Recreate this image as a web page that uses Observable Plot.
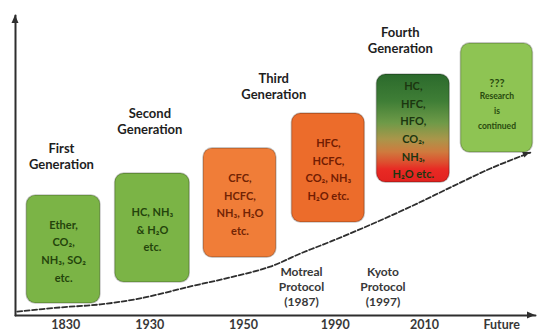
<!DOCTYPE html>
<html>
<head>
<meta charset="utf-8">
<script src="https://cdn.jsdelivr.net/npm/d3@7"></script>
<script src="https://cdn.jsdelivr.net/npm/@observablehq/plot@0.6"></script>
<style>
  body { margin: 0; background: #fff; }
</style>
</head>
<body>
<div id="chart"></div>
<script>
// Refrigerant generations along a timeline (x: timeline stage, y: level of development)

// Timeline tick labels and their stage positions
const eraTicks  = [0.58, 1.55, 2.63, 3.69, 4.72, 5.61];
const eraLabels = ["1830", "1930", "1950", "1990", "2010", "Future"];

// Refrigerant boxes: stage span and level span
const boxStart = [0.13, 1.15, 2.17, 3.19, 4.17, 5.14];
const boxEnd   = [0.98, 2.01, 3.01, 4.03, 5.01, 5.97];
const boxLow   = [4.0, 11.0, 19.3, 31.0, 44.3, 54.3];
const boxHigh  = [40.0, 47.3, 55.7, 67.3, 80.3, 90.7];
const boxKind  = ["natural", "natural", "cfc", "hfc", "lowgwp", "future"];
const boxLines = [
  "Ether,\nCO₂,\nNH₃, SO₂\netc.",
  "HC, NH₃\n& H₂O\netc.",
  "CFC,\nHCFC,\nNH₃, H₂O\netc.",
  "HFC,\nHCFC,\nCO₂, NH₃\nH₂O etc.",
  "HC,\nHFC,\nHFO,\nCO₂,\nNH₃,\nH₂O etc.",
  "???"
];
const futureNote = "Research\nis\ncontinued";

// Generation headings
const genNames = ["First\nGeneration", "Second\nGeneration", "Third\nGeneration", "Fourth\nGeneration"];
const genStage = [0.53, 1.55, 2.98, 4.44];
const genLevel = [53.3, 65.0, 76.5, 92.0];

// International agreements
const protocolNames = ["Motreal\nProtocol\n(1987)", "Kyoto\nProtocol\n(1997)"];
const protocolStage = [3.30, 4.24];
const protocolLevel = [9.7, 9.7];

// Trend of refrigerant development (dashed curve)
const trendStage = [0.02, 0.52, 0.98, 1.44, 2.02, 2.48, 2.94, 3.29, 3.64, 4.10, 4.56, 5.02, 5.48, 5.94];
const trendLevel = [1.3, 2.7, 3.7, 5.7, 9.7, 12.7, 16.3, 20.7, 24.7, 30.3, 36.3, 42.7, 49.0, 54.3];

// ---- styles ----
const FONT = "Lato, 'DejaVu Sans', sans-serif";
const INK = "#2e2e2e";
const kindFill = {
  natural: "#7bb446",
  cfc: "#f07d38",
  hfc: "#ec6c2b",
  lowgwp: "url(#fourth-gen-fill)",
  future: "#8ec453"
};
const kindText = {
  natural: "#24440c",
  cfc: "#722404",
  hfc: "#721c02",
  lowgwp: "#1c3610",
  future: "#284a0e"
};

// ---- tables ----
const boxes = boxLines.map((text, i) => ({
  start: boxStart[i], end: boxEnd[i], low: boxLow[i], high: boxHigh[i],
  kind: boxKind[i], text
}));
const ticks = eraTicks.map((x, i) => ({x, label: eraLabels[i]}));
const gens = genNames.map((name, i) => ({name, x: genStage[i], y: genLevel[i]}));
const protocols = protocolNames.map((name, i) => ({name, x: protocolStage[i], y: protocolLevel[i]}));
const trend = trendStage.map((x, i) => ({x, y: trendLevel[i]}));
const xAxisLine = [{x: 0, y: 0}, {x: 6, y: 0}];
const yAxisLine = [{x: 0, y: 0}, {x: 0, y: 100}];

const SVGNS = "http://www.w3.org/2000/svg";

// Gradient for the fourth-generation box (green to red)
function gradientDefs() {
  const defs = document.createElementNS(SVGNS, "defs");
  const g = document.createElementNS(SVGNS, "linearGradient");
  g.setAttribute("id", "fourth-gen-fill");
  g.setAttribute("x1", "0"); g.setAttribute("y1", "0");
  g.setAttribute("x2", "0"); g.setAttribute("y2", "1");
  [[0, "#2b6a2c"], [0.25, "#3f7e36"], [0.45, "#6e9a48"], [0.6, "#a9964a"],
   [0.72, "#cf7a3e"], [0.82, "#de4d2e"], [0.88, "#e82a24"], [1, "#e2221f"]]
    .forEach(([o, c]) => {
      const s = document.createElementNS(SVGNS, "stop");
      s.setAttribute("offset", o);
      s.setAttribute("stop-color", c);
      g.appendChild(s);
    });
  defs.appendChild(g);
  return defs;
}

// Filled arrowheads at the end of each path, placed through the plot's scales
function arrowHeads(paths, {length = 8, width = 7, fill = INK} = {}) {
  return (index, scales) => {
    const g = document.createElementNS(SVGNS, "g");
    for (const pts of paths) {
      const a = pts[pts.length - 2], b = pts[pts.length - 1];
      const x0 = scales.x(a.x), y0 = scales.y(a.y);
      const x1 = scales.x(b.x), y1 = scales.y(b.y);
      const ang = Math.atan2(y1 - y0, x1 - x0);
      const bx = x1 - length * Math.cos(ang), by = y1 - length * Math.sin(ang);
      const nx = -Math.sin(ang) * width / 2, ny = Math.cos(ang) * width / 2;
      const p = document.createElementNS(SVGNS, "path");
      p.setAttribute("d", `M${x1},${y1}L${bx + nx},${by + ny}L${bx - nx},${by - ny}Z`);
      p.setAttribute("fill", fill);
      g.appendChild(p);
    }
    return g;
  };
}

const kinds = Object.keys(kindFill);

const chart = Plot.plot({
  width: 537,
  height: 336,
  marginLeft: 15,
  marginRight: 2,
  marginTop: 15,
  marginBottom: 21,
  x: {domain: [0, 6], axis: null},
  y: {domain: [0, 100], axis: null},
  color: {type: "ordinal", domain: kinds, range: kinds.map(k => kindFill[k])},
  style: {fontFamily: FONT, background: "#fff", overflow: "visible"},
  marks: [
    gradientDefs,
    // dashed development trend
    Plot.line(trend, {x: "x", y: "y", curve: "catmull-rom", stroke: INK, strokeWidth: 1.8, strokeDasharray: "5,2.5"}),
    // refrigerant boxes
    Plot.rect(boxes, {
      x1: "start", x2: "end", y1: "low", y2: "high", fill: "kind",
      rx: 9, ry: 9, stroke: "#000", strokeOpacity: 0.22, strokeWidth: 1.6
    }),
    ...kinds.map(k => Plot.text(boxes.filter(d => d.kind === k), {
      x: d => (d.start + d.end) / 2,
      y: d => (d.low + d.high) / 2,
      text: "text",
      dy: k === "future" ? -17 : 0,
      fill: kindText[k],
      fontSize: 11,
      fontWeight: "bold",
      lineHeight: 1.6
    })),
    Plot.text(boxes.filter(d => d.kind === "future"), {
      x: d => (d.start + d.end) / 2,
      y: d => (d.low + d.high) / 2,
      text: () => futureNote,
      dy: 11,
      fill: kindText.future,
      fontSize: 8.5,
      fontWeight: "bold",
      lineHeight: 1.8
    }),
    // generation headings
    Plot.text(gens, {x: "x", y: "y", text: "name", fontSize: 13, fontWeight: "bold", fill: "#1e1e1e", lineHeight: 1.25}),
    // protocol notes
    Plot.text(protocols, {x: "x", y: "y", text: "name", fontSize: 12, fontWeight: "bold", fill: "#383838", lineHeight: 1.25}),
    // axes
    Plot.line(xAxisLine, {x: "x", y: "y", stroke: INK, strokeWidth: 2}),
    Plot.line(yAxisLine, {x: "x", y: "y", stroke: INK, strokeWidth: 2}),
    arrowHeads([xAxisLine, yAxisLine], {length: 8, width: 7}),
    arrowHeads([trend.slice(-2)], {length: 7, width: 6}),
    // timeline labels
    Plot.text(ticks, {x: "x", frameAnchor: "bottom", dy: 13, text: "label", fontSize: 12.5, fontWeight: "bold", fill: "#383838"})
  ]
});

document.getElementById("chart").appendChild(chart);
</script>
</body>
</html>
